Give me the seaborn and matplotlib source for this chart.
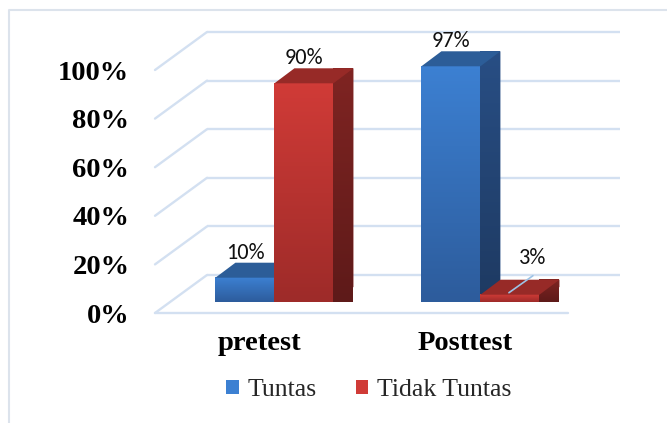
import numpy as np
import pandas as pd
import matplotlib
matplotlib.use("Agg")
import matplotlib.pyplot as plt
import seaborn as sns
from matplotlib import font_manager as fm
from matplotlib.transforms import ScaledTranslation
from matplotlib.patches import Polygon, Rectangle
from matplotlib.lines import Line2D
from matplotlib.colors import LinearSegmentedColormap

# ---------------- data ----------------
categories = ["pretest", "Posttest"]
series_names = ["Tuntas", "Tidak Tuntas"]
tuntas = [10, 97]
tidak_tuntas = [90, 3]
y_ticks = [0, 20, 40, 60, 80, 100]
y_tick_labels = ["0%", "20%", "40%", "60%", "80%", "100%"]

df = pd.DataFrame({
    "kategori": categories * 2,
    "seri": [series_names[0]] * len(categories) + [series_names[1]] * len(categories),
    "nilai": tuntas + tidak_tuntas,
})


def pick(cands):
    for c in cands:
        try:
            fm.findfont(fm.FontProperties(family=c), fallback_to_default=False)
            return c
        except Exception:
            pass
    return cands[-1]


# ---------------- style ----------------
front_cols = {"Tuntas": ("#3C80D2", "#2D5C9C"), "Tidak Tuntas": ("#D03B37", "#9E2B29")}
top_cols = {"Tuntas": "#2C5D98", "Tidak Tuntas": "#972A27"}
side_cols = {"Tuntas": ("#284E84", "#1E3A62"), "Tidak Tuntas": ("#7F2422", "#5E1A19")}
grid_col = "#D3E0F1"
SERIF = pick(["Liberation Serif", "Tinos", "FreeSerif", "DejaVu Serif"])
LABEL_FONT = pick(["Carlito", "Lato", "DejaVu Sans"])

sns.set_theme(style="white")
plt.rcParams["font.family"] = [SERIF, "DejaVu Serif"]

W, H = 667, 423
fig = plt.figure(figsize=(W / 100, H / 100), dpi=100)
fig.patch.set_facecolor("white")
ax = fig.add_axes([155 / W, (H - 313) / H, 413 / W, 243 / H])

sns.barplot(data=df, x="kategori", y="nilai", hue="seri", order=categories,
            hue_order=series_names, palette=[front_cols[s][0] for s in series_names],
            width=0.573, errorbar=None, saturation=1, legend=False, ax=ax)

X0, X1 = -0.507, 1.498
ax.set_xlim(X0, X1)
ax.set_ylim(0, 100)
for sp in ax.spines.values():
    sp.set_visible(False)
ax.set_facecolor("none")
ax.set_xlabel("")
ax.set_ylabel("")

ppx = ax.bbox.width / (X1 - X0)      # pixels per x unit
ppy = ax.bbox.height / 100.0         # pixels per y unit


def px(dx, dy):
    return ScaledTranslation(dx / 100, dy / 100, fig.dpi_scale_trans)


bar_off = ax.transData + px(15, 11)
back_off = ax.transData + px(52, 38)
dep_x, dep_y = 20 / ppx, 15 / ppy

# ---------------- walls ----------------
for v in y_ticks:
    ax.plot([X0, X1], [v, v], transform=back_off, color=grid_col, lw=1.7,
            clip_on=False, zorder=0.5, solid_capstyle="butt")
    ax.plot([X0, X0 + 52 / ppx], [v, v + 38 / ppy], color=grid_col, lw=1.7,
            clip_on=False, zorder=0.5)
ax.plot([X0, X1], [0, 0], color=grid_col, lw=1.7, clip_on=False, zorder=0.5)

# ---------------- 3D bars ----------------
bars = [p for p in ax.patches if p.get_height() > 0]
info = [(p.get_x(), p.get_width(), p.get_height(), p) for p in bars]
n = len(categories)
series_of = [series_names[i // n] for i in range(len(info))]
order = sorted(range(len(info)), key=lambda i: info[i][0])

vgrad = np.linspace(0, 1, 64).reshape(-1, 1)
z = 2
for i in order:
    x, w, h, p = info[i]
    s = series_of[i]
    p.set_visible(False)
    # front face gradient
    cm = LinearSegmentedColormap.from_list("f", [front_cols[s][1], front_cols[s][0]])
    im = ax.imshow(vgrad, extent=[x, x + w, 0, h], origin="lower", aspect="auto",
                   cmap=cm, zorder=z, clip_on=False, interpolation="bilinear")
    im.set_transform(bar_off)
    # side face
    cms = LinearSegmentedColormap.from_list("s", [side_cols[s][1], side_cols[s][0]])
    side = Polygon([(x + w, 0), (x + w + dep_x, dep_y), (x + w + dep_x, h + dep_y), (x + w, h)],
                   closed=True, facecolor=side_cols[s][0], edgecolor="none",
                   transform=bar_off, clip_on=False, zorder=z + 0.1)
    ax.add_patch(side)
    ims = ax.imshow(vgrad, extent=[x + w, x + w + dep_x, 0, h + dep_y], origin="lower",
                    aspect="auto", cmap=cms, zorder=z + 0.15, clip_on=False,
                    interpolation="bilinear")
    ims.set_transform(bar_off)
    ims.set_clip_path(side)
    # top face
    top = Polygon([(x, h), (x + w, h), (x + w + dep_x, h + dep_y), (x + dep_x, h + dep_y)],
                  closed=True, facecolor=top_cols[s], edgecolor="none",
                  transform=bar_off, clip_on=False, zorder=z + 0.2)
    ax.add_patch(top)
    # value label
    cx = x + w / 2
    if h < 5:
        ax.plot([cx - 1 / ppx, cx + 23 / ppx], [h + 2 / ppy, h + 19 / ppy], color="#9DC3E6",
                lw=1.2, transform=bar_off, clip_on=False, zorder=z + 0.3)
        ax.text(cx + 23 / ppx, h + 37 / ppy, f"{h:.0f}%", ha="center", va="center",
                fontsize=16, family=LABEL_FONT, color="#111111",
                transform=bar_off, zorder=10)
    else:
        ax.text(cx, h + 25 / ppy, f"{h:.0f}%", ha="center", va="center",
                fontsize=16, family=LABEL_FONT, color="#111111",
                transform=bar_off, zorder=10)
    z += 1

ax.set_xlim(X0, X1)
ax.set_ylim(0, 100)

# ---------------- ticks ----------------
ax.set_yticks(y_ticks, labels=y_tick_labels)
ax.set_xticks(range(len(categories)), labels=categories)
ax.tick_params(axis="y", length=0, pad=18.5, labelsize=20.5)
ax.tick_params(axis="x", length=0, pad=13, labelsize=20.5)
for lab in ax.get_yticklabels() + ax.get_xticklabels():
    lab.set_fontweight("bold")
    lab.set_family(SERIF)
    lab.set_color("black")

# ---------------- legend ----------------
handles = [Rectangle((0, 0), 1, 1, facecolor=front_cols[s][0], edgecolor="none") for s in series_names]
fig.legend(handles, series_names, loc="center", bbox_to_anchor=(369 / W, 1 - 390 / H),
           ncol=2, frameon=False, prop={"family": SERIF, "size": 18.5},
           handlelength=0.5, handleheight=0.5, handletextpad=0.35, columnspacing=1.5,
           borderpad=0, borderaxespad=0)

# ---------------- outer frame ----------------
fig.add_artist(Line2D([9 / W, 9 / W, 1], [0, 1 - 10 / H, 1 - 10 / H], transform=fig.transFigure,
                      color="#DCE3EC", lw=1.5))

fig.savefig("out.png", dpi=100)
